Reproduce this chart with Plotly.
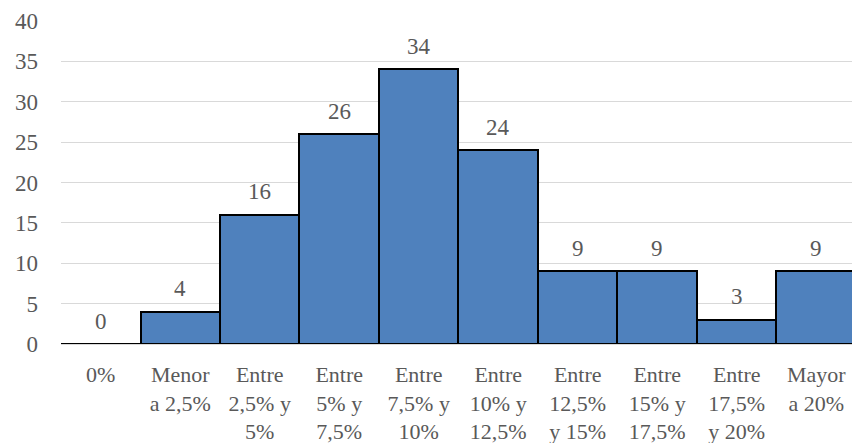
import plotly.graph_objects as go

categories = ["0%", "Menor<br>a 2,5%", "Entre<br>2,5% y<br>5%", "Entre<br>5% y<br>7,5%",
              "Entre<br>7,5% y<br>10%", "Entre<br>10% y<br>12,5%", "Entre<br>12,5%<br>y 15%",
              "Entre<br>15% y<br>17,5%", "Entre<br>17,5%<br>y 20%", "Mayor<br>a 20%"]
values = [0, 4, 16, 26, 34, 24, 9, 9, 3, 9]
y_ticks = [0, 5, 10, 15, 20, 25, 30, 35, 40]

FONT = "Liberation Serif"
TXT = "#595959"
FS = 22

fig = go.Figure()
fig.add_trace(go.Bar(
    x=categories, y=values,
    marker=dict(color="#4f81bd", line=dict(color="black", width=2)),
    width=1.0,
))
for c, v in zip(categories, values):
    fig.add_annotation(x=c, y=v, text=str(v), showarrow=False, yshift=23,
                       font=dict(family=FONT, size=23, color=TXT))

fig.update_layout(
    width=852, height=443,
    margin=dict(l=61, r=0, t=21, b=99),
    paper_bgcolor="white", plot_bgcolor="white",
    showlegend=False, bargap=0,
    font=dict(family=FONT, size=FS, color=TXT),
)
fig.update_xaxes(showgrid=False, showline=False, ticks="", tickangle=0, automargin=False,
                 range=[-0.5, 9.45],
                 tickfont=dict(family=FONT, size=FS, color=TXT), ticklabelstandoff=15)
fig.update_yaxes(range=[0, 40], tickvals=y_ticks, showgrid=True, gridcolor="#d9d9d9",
                 gridwidth=1, zeroline=True, zerolinecolor="#d9d9d9", zerolinewidth=1,
                 ticks="", automargin=False,
                 tickfont=dict(family=FONT, size=23, color=TXT), ticklabelstandoff=22)
fig.write_html("out.html", config={"displayModeBar": False},
               post_script="document.body.style.margin='0';")
